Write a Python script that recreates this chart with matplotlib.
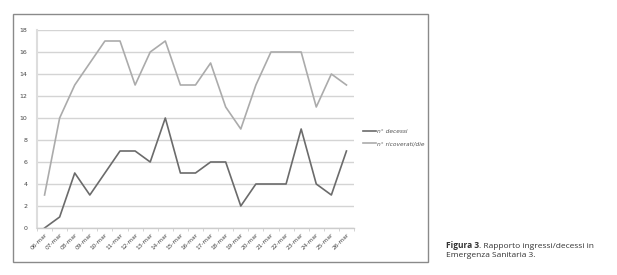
import matplotlib.pyplot as plt
from matplotlib.patches import Rectangle
from matplotlib.transforms import offset_copy

# data
dates = ["06-mar", "07-mar", "08-mar", "09-mar", "10-mar", "11-mar", "12-mar",
         "13-mar", "14-mar", "15-mar", "16-mar", "17-mar", "18-mar", "19-mar",
         "20-mar", "21-mar", "22-mar", "23-mar", "24-mar", "25-mar", "26-mar"]
decessi = [0, 1, 5, 3, 5, 7, 7, 6, 10, 5, 5, 6, 6, 2, 4, 4, 4, 9, 4, 3, 7]
ricoverati = [3, 10, 13, 15, 17, 17, 13, 16, 17, 13, 13, 15, 11, 9, 13, 16, 16, 16, 11, 14, 13]
yticks = [0, 2, 4, 6, 8, 10, 12, 14, 16, 18]

W, H = 617, 275
fig = plt.figure(figsize=(W / 100, H / 100), dpi=100)

# chart frame
fig.patches.append(Rectangle((13 / W, 1 - 262 / H), (428 - 13) / W, (262 - 14) / H,
                             transform=fig.transFigure, fill=False,
                             edgecolor="#8a8a8a", linewidth=1.0))

ax = fig.add_axes([37 / W, 1 - 228 / H, (354 - 37) / W, (228 - 30) / H])
x = list(range(len(dates)))
l1, = ax.plot(x, decessi, color="#6b6b6b", linewidth=1.2, label="n° decessi")
l2, = ax.plot(x, ricoverati, color="#ababab", linewidth=1.2, label="n° ricoverati/die")

ax.set_xlim(-0.5, len(dates) - 0.5)
ax.set_ylim(0, 18)
ax.set_yticks(yticks)
ax.set_yticklabels([str(v) for v in yticks], fontsize=4.5, color="#444444")
ax.set_xticks(x)
ax.set_xticklabels(dates, rotation=45, ha="right", rotation_mode="anchor",
                   fontsize=4.2, color="#444444")
ax.set_xticks([i - 0.5 for i in range(len(dates) + 1)], minor=True)
ax.tick_params(axis="x", which="major", length=0, pad=3)
ax.tick_params(axis="x", which="minor", length=2.5, color="#cccccc", width=0.6)
ax.tick_params(axis="y", length=0, pad=7)
ax.grid(axis="y", color="#d4d4d4", linewidth=1.0)
ax.set_axisbelow(True)
for s in ["top", "right"]:
    ax.spines[s].set_visible(False)
ax.spines["left"].set_color("#dddddd")
ax.spines["left"].set_linewidth(1.5)
ax.spines["bottom"].set_color("#cccccc")
ax.spines["bottom"].set_linewidth(1.0)

leg = fig.legend(handles=[l1, l2], loc="upper left",
                 bbox_to_anchor=(358 / W, 1 - 124 / H), frameon=False,
                 prop={"size": 4.2, "style": "italic"}, handlelength=2.2,
                 handletextpad=0.2, labelspacing=1.2)
for t in leg.get_texts():
    t.set_color("#555555")

# caption: bold part then regular part right after it
t1 = fig.text(446 / W, 1 - 248 / H, "Figura 3", fontsize=6, color="#333333",
              family="Open Sans", weight="bold", va="baseline")
fig.canvas.draw()
bb = t1.get_window_extent()
fig.text(bb.x1 / fig.bbox.width, 1 - 248 / H, ". Rapporto ingressi/decessi in",
         fontsize=6, color="#333333", family="Open Sans", va="baseline")
fig.text(446 / W, 1 - 257 / H, "Emergenza Sanitaria 3.",
         fontsize=6, color="#333333", family="Open Sans", va="baseline")

fig.savefig("out.png", dpi=100)
